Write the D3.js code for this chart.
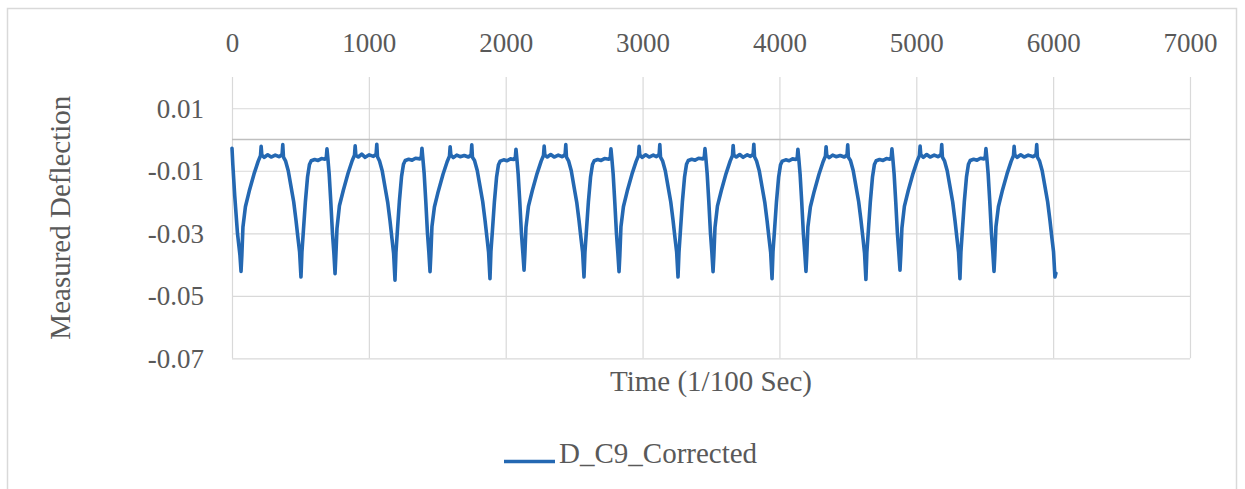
<!DOCTYPE html>
<html>
<head>
<meta charset="utf-8">
<script src="https://cdn.jsdelivr.net/npm/d3@7"></script>
<style>
  body { margin: 0; background: #fff; }
  text { font-family: "Liberation Serif", "Times New Roman", serif; fill: #595959; }
</style>
</head>
<body>
<svg id="chart" width="1245" height="489"></svg>
<script>
// Axis setup
const xTicks = [0, 1000, 2000, 3000, 4000, 5000, 6000, 7000];
const xDomain = [0, 7000];
const yTicks = [-0.07, -0.05, -0.03, -0.01, 0.01];
const yDomain = [-0.07, 0.02];
const xTitle = "Time (1/100 Sec)";
const yTitle = "Measured Deflection";
const seriesName = "D_C9_Corrected";

// Measured deflection samples: [time (1/100 s), deflection]
const readings = [
  [0,-0.0028],[6,-0.0080],[20,-0.0180],[40,-0.0300],[58,-0.0370],
  // cycle 1
  [66,-0.0422],[72,-0.0370],[80,-0.0280],[98,-0.0215],[126,-0.0165],[161,-0.0110],[191,-0.0070],[208,-0.0052],[213,-0.0022],[218,-0.0050],[236,-0.0057],[261,-0.0049],[286,-0.0056],[316,-0.0050],
  [346,-0.0055],[366,-0.0048],[371,-0.0016],[376,-0.0056],[391,-0.0068],[411,-0.0100],[431,-0.0150],[451,-0.0200],[468,-0.0260],[482,-0.0315],[494,-0.0360],[504,-0.0440],
  [511,-0.0360],[522,-0.0290],[536,-0.0200],[552,-0.0120],[566,-0.0080],[579,-0.0068],[604,-0.0064],[629,-0.0067],[654,-0.0061],[679,-0.0063],[689,-0.0057],[694,-0.0030],[700,-0.0058],[710,-0.0110],[722,-0.0200],[734,-0.0300],[744,-0.0360],
  // cycle 2
  [753,-0.0429],[759,-0.0370],[767,-0.0285],[785,-0.0212],[813,-0.0163],[848,-0.0108],[878,-0.0068],[895,-0.0050],[900,-0.0020],[905,-0.0051],[923,-0.0056],[948,-0.0047],[973,-0.0057],[1003,-0.0049],
  [1033,-0.0054],[1053,-0.0047],[1058,-0.0015],[1063,-0.0055],[1078,-0.0069],[1098,-0.0101],[1118,-0.0152],[1138,-0.0202],[1155,-0.0262],[1169,-0.0318],[1181,-0.0365],[1191,-0.0450],
  [1198,-0.0362],[1209,-0.0288],[1223,-0.0198],[1239,-0.0118],[1253,-0.0079],[1266,-0.0067],[1291,-0.0063],[1316,-0.0066],[1341,-0.0060],[1373,-0.0062],[1383,-0.0056],[1388,-0.0028],[1394,-0.0057],[1404,-0.0108],[1416,-0.0198],[1428,-0.0298],[1438,-0.0358],
  // cycle 3
  [1447,-0.0423],[1453,-0.0368],[1461,-0.0278],[1479,-0.0216],[1507,-0.0166],[1542,-0.0111],[1572,-0.0071],[1589,-0.0053],[1594,-0.0023],[1599,-0.0049],[1617,-0.0058],[1642,-0.0050],[1667,-0.0055],[1697,-0.0051],
  [1727,-0.0056],[1747,-0.0049],[1752,-0.0017],[1757,-0.0057],[1772,-0.0067],[1792,-0.0099],[1812,-0.0149],[1832,-0.0199],[1849,-0.0259],[1863,-0.0314],[1875,-0.0362],[1885,-0.0445],
  [1892,-0.0358],[1903,-0.0291],[1917,-0.0201],[1933,-0.0121],[1947,-0.0081],[1960,-0.0069],[1985,-0.0065],[2010,-0.0068],[2035,-0.0062],[2060,-0.0064],[2070,-0.0058],[2075,-0.0031],[2081,-0.0059],[2091,-0.0111],[2103,-0.0201],[2115,-0.0301],[2125,-0.0361],
  // cycle 4
  [2134,-0.0418],[2140,-0.0366],[2148,-0.0281],[2166,-0.0214],[2194,-0.0164],[2229,-0.0109],[2259,-0.0069],[2276,-0.0051],[2281,-0.0021],[2286,-0.0050],[2304,-0.0056],[2329,-0.0048],[2354,-0.0056],[2384,-0.0050],
  [2414,-0.0055],[2434,-0.0048],[2439,-0.0016],[2444,-0.0056],[2459,-0.0068],[2479,-0.0100],[2499,-0.0151],[2519,-0.0201],[2536,-0.0261],[2550,-0.0316],[2562,-0.0361],[2572,-0.0440],
  [2579,-0.0360],[2590,-0.0290],[2604,-0.0200],[2620,-0.0120],[2634,-0.0080],[2647,-0.0068],[2672,-0.0064],[2697,-0.0067],[2722,-0.0061],[2754,-0.0063],[2764,-0.0057],[2769,-0.0030],[2775,-0.0058],[2785,-0.0110],[2797,-0.0200],[2809,-0.0300],[2819,-0.0360],
  // cycle 5
  [2828,-0.0423],[2834,-0.0369],[2842,-0.0279],[2860,-0.0215],[2888,-0.0165],[2923,-0.0110],[2953,-0.0070],[2970,-0.0052],[2975,-0.0022],[2980,-0.0050],[2998,-0.0057],[3023,-0.0049],[3048,-0.0056],[3078,-0.0050],
  [3101,-0.0055],[3121,-0.0048],[3126,-0.0016],[3131,-0.0056],[3146,-0.0068],[3166,-0.0100],[3186,-0.0150],[3206,-0.0200],[3223,-0.0260],[3237,-0.0315],[3249,-0.0360],[3259,-0.0440],
  [3266,-0.0361],[3277,-0.0289],[3291,-0.0199],[3307,-0.0119],[3321,-0.0079],[3334,-0.0067],[3359,-0.0063],[3384,-0.0066],[3409,-0.0060],[3441,-0.0062],[3451,-0.0056],[3456,-0.0029],[3462,-0.0057],[3472,-0.0109],[3484,-0.0199],[3496,-0.0299],[3506,-0.0359],
  // cycle 6
  [3515,-0.0423],[3521,-0.0371],[3529,-0.0282],[3547,-0.0213],[3575,-0.0164],[3610,-0.0109],[3640,-0.0069],[3657,-0.0051],[3662,-0.0019],[3667,-0.0050],[3685,-0.0056],[3710,-0.0048],[3735,-0.0057],[3765,-0.0049],
  [3788,-0.0054],[3808,-0.0047],[3813,-0.0015],[3818,-0.0055],[3833,-0.0069],[3853,-0.0101],[3873,-0.0151],[3893,-0.0201],[3910,-0.0261],[3924,-0.0316],[3936,-0.0362],[3946,-0.0445],
  [3953,-0.0359],[3964,-0.0291],[3978,-0.0201],[3994,-0.0121],[4008,-0.0081],[4021,-0.0069],[4046,-0.0065],[4071,-0.0068],[4096,-0.0062],[4120,-0.0064],[4130,-0.0058],[4135,-0.0031],[4141,-0.0059],[4151,-0.0111],[4163,-0.0201],[4175,-0.0301],[4185,-0.0361],
  // cycle 7
  [4194,-0.0422],[4200,-0.0368],[4208,-0.0280],[4226,-0.0216],[4254,-0.0166],[4289,-0.0111],[4319,-0.0071],[4336,-0.0053],[4341,-0.0023],[4346,-0.0051],[4364,-0.0058],[4389,-0.0050],[4414,-0.0055],[4444,-0.0051],
  [4474,-0.0056],[4494,-0.0049],[4499,-0.0017],[4504,-0.0057],[4519,-0.0067],[4539,-0.0099],[4559,-0.0149],[4579,-0.0199],[4596,-0.0259],[4610,-0.0314],[4622,-0.0364],[4632,-0.0448],
  [4639,-0.0360],[4650,-0.0290],[4664,-0.0200],[4680,-0.0120],[4694,-0.0080],[4707,-0.0068],[4732,-0.0064],[4757,-0.0067],[4782,-0.0061],[4807,-0.0063],[4817,-0.0057],[4822,-0.0030],[4828,-0.0058],[4838,-0.0110],[4850,-0.0200],[4862,-0.0300],[4872,-0.0360],
  // cycle 8
  [4881,-0.0418],[4887,-0.0367],[4895,-0.0283],[4913,-0.0214],[4941,-0.0164],[4976,-0.0109],[5006,-0.0069],[5023,-0.0051],[5028,-0.0021],[5033,-0.0049],[5051,-0.0057],[5076,-0.0048],[5101,-0.0056],[5131,-0.0050],
  [5161,-0.0055],[5181,-0.0048],[5186,-0.0016],[5191,-0.0056],[5206,-0.0068],[5226,-0.0100],[5246,-0.0150],[5266,-0.0200],[5283,-0.0260],[5297,-0.0315],[5309,-0.0362],[5319,-0.0445],
  [5326,-0.0361],[5337,-0.0289],[5351,-0.0199],[5367,-0.0119],[5381,-0.0079],[5394,-0.0067],[5419,-0.0063],[5444,-0.0066],[5469,-0.0060],[5494,-0.0062],[5504,-0.0056],[5509,-0.0029],[5515,-0.0057],[5525,-0.0109],[5537,-0.0199],[5549,-0.0299],[5559,-0.0359],
  // cycle 9
  [5568,-0.0422],[5574,-0.0369],[5582,-0.0279],[5600,-0.0215],[5628,-0.0165],[5663,-0.0110],[5693,-0.0070],[5710,-0.0052],[5715,-0.0022],[5720,-0.0050],[5738,-0.0057],[5763,-0.0049],[5788,-0.0056],[5818,-0.0050],
  [5855,-0.0055],[5875,-0.0048],[5880,-0.0016],[5885,-0.0056],[5900,-0.0068],[5920,-0.0100],[5940,-0.0150],[5960,-0.0200],[5977,-0.0260],[5991,-0.0315],[6003,-0.0360],[6013,-0.0440],[6020,-0.0428]
];

const svg = d3.select("#chart");
const W = 1245, H = 489;
const plot = { left: 232, right: 1190, top: 77, bottom: 358.3 };

const x = d3.scaleLinear().domain(xDomain).range([plot.left, plot.right]);
const y = d3.scaleLinear().domain(yDomain).range([plot.bottom, plot.top]);

// chart area
svg.append("rect").attr("width", W).attr("height", H).attr("fill", "#fff");
svg.append("rect")
  .attr("x", 7.5).attr("y", 8.5).attr("width", 1229).attr("height", 490)
  .attr("fill", "none").attr("stroke", "#d9d9d9").attr("stroke-width", 1.5);

// gridlines
const gridY = svg.append("g")
  .attr("transform", `translate(${plot.left},0)`)
  .call(d3.axisLeft(y).tickValues(yTicks).tickSize(-(plot.right - plot.left)).tickFormat(""));
const gridX = svg.append("g")
  .attr("transform", `translate(0,${plot.bottom})`)
  .call(d3.axisBottom(x).tickValues(xTicks).tickSize(-(plot.bottom - plot.top)).tickFormat(""));
[gridX, gridY].forEach(g => {
  g.select(".domain").remove();
  g.selectAll("line").attr("stroke", "#d9d9d9").attr("stroke-width", 1.2);
});

// horizontal axis line at zero
svg.append("line")
  .attr("x1", x(xDomain[0])).attr("x2", x(xDomain[1]))
  .attr("y1", y(0)).attr("y2", y(0))
  .attr("stroke", "#bfbfbf").attr("stroke-width", 1.5);

// tick labels (x on top, y on left)
const xAxis = svg.append("g")
  .attr("transform", "translate(0,52)")
  .call(d3.axisTop(x).tickValues(xTicks).tickSize(0).tickPadding(0).tickFormat(d => String(d)));
const yAxis = svg.append("g")
  .attr("transform", "translate(204,0)")
  .call(d3.axisLeft(y).tickValues(yTicks).tickSize(0).tickPadding(0).tickFormat(d => d.toFixed(2)));
[xAxis, yAxis].forEach(g => {
  g.select(".domain").remove();
  g.selectAll("text").attr("fill", "#595959").style("font-size", "27px")
    .style("font-family", '"Liberation Serif", "Times New Roman", serif');
});
yAxis.selectAll("text").attr("dy", "0.33em");

// data line
const line = d3.line().x(d => x(d[0])).y(d => y(d[1]));
svg.append("path")
  .datum(readings)
  .attr("d", line)
  .attr("fill", "none")
  .attr("stroke", "#2468b2")
  .attr("stroke-width", 3.6)
  .attr("stroke-linejoin", "round")
  .attr("stroke-linecap", "round");

// axis titles
svg.append("text")
  .attr("x", (plot.left + plot.right) / 2).attr("y", 391)
  .attr("text-anchor", "middle").style("font-size", "29px")
  .text(xTitle);
svg.append("text")
  .attr("transform", `translate(70,${(plot.top + plot.bottom) / 2}) rotate(-90)`)
  .attr("text-anchor", "middle").style("font-size", "29px")
  .text(yTitle);

// legend
svg.append("line")
  .attr("x1", 504).attr("x2", 555).attr("y1", 461.5).attr("y2", 461.5)
  .attr("stroke", "#2468b2").attr("stroke-width", 3.6);
svg.append("text")
  .attr("x", 559).attr("y", 463)
  .style("font-size", "29px")
  .text(seriesName);
</script>
</body>
</html>
